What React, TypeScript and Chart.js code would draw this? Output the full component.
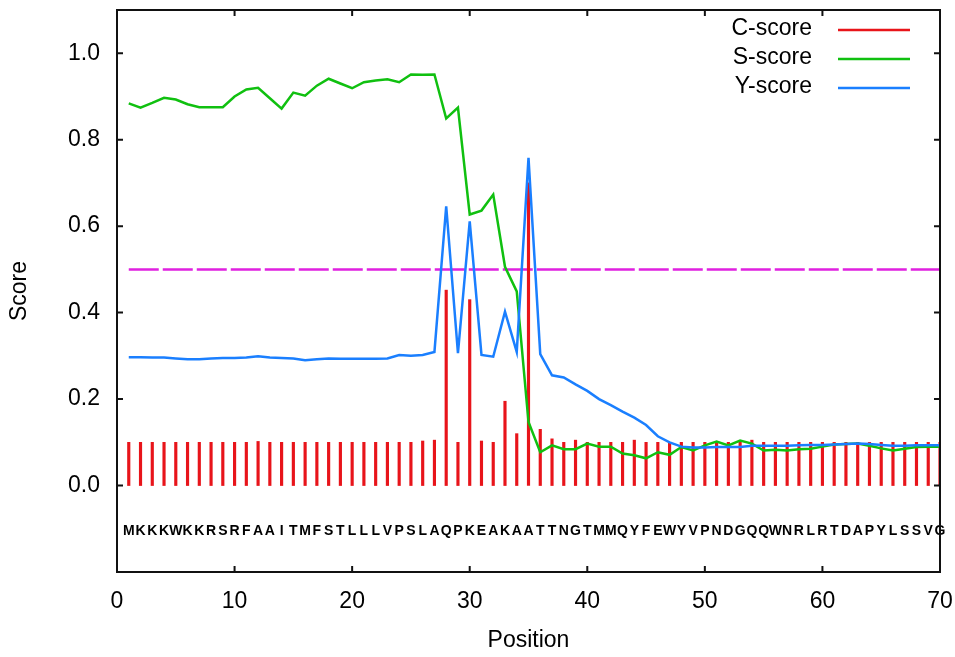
import React, { useEffect, useRef } from "react";
import { Chart, registerables } from "chart.js";

Chart.register(...registerables);

const sequence = "MKKKWKKRSRFAAITMFSTLLLVPSLAQPKEAKAATTNGTMMQYFEWYVPNDGQQWNRLRTDAPYLSSVG".split("");

const positions = sequence.map((_, i) => i + 1);

const cScore = [
  0.1, 0.1, 0.1, 0.1, 0.1, 0.1, 0.1, 0.1, 0.1, 0.1,
  0.1, 0.102, 0.1, 0.1, 0.1, 0.1, 0.1, 0.1, 0.1, 0.1,
  0.1, 0.1, 0.1, 0.1, 0.1, 0.103, 0.105, 0.452, 0.1, 0.43,
  0.103, 0.1, 0.195, 0.12, 0.70, 0.13, 0.108, 0.1, 0.105, 0.1,
  0.1, 0.1, 0.1, 0.105, 0.1, 0.1, 0.1, 0.1, 0.1, 0.1,
  0.1, 0.1, 0.1, 0.105, 0.1, 0.1, 0.1, 0.1, 0.1, 0.1,
  0.1, 0.1, 0.1, 0.1, 0.1, 0.1, 0.1, 0.1, 0.1, 0.1,
];

const sScore = [
  0.884, 0.874, 0.885, 0.897, 0.893, 0.882, 0.875, 0.875, 0.875, 0.900,
  0.916, 0.920, 0.896, 0.872, 0.909, 0.902, 0.925, 0.941, 0.930, 0.919,
  0.933, 0.937, 0.940, 0.933, 0.951, 0.950, 0.951, 0.849, 0.874, 0.627,
  0.636, 0.673, 0.506, 0.449, 0.147, 0.077, 0.093, 0.084, 0.084, 0.097,
  0.090, 0.090, 0.074, 0.070, 0.063, 0.077, 0.071, 0.089, 0.081, 0.093,
  0.102, 0.093, 0.104, 0.097, 0.081, 0.083, 0.081, 0.084, 0.085, 0.090,
  0.095, 0.096, 0.097, 0.092, 0.086, 0.081, 0.085, 0.089, 0.090, 0.090,
];

const yScore = [
  0.297, 0.297, 0.296, 0.296, 0.294, 0.292, 0.292, 0.294, 0.295, 0.295,
  0.296, 0.299, 0.296, 0.295, 0.294, 0.290, 0.292, 0.294, 0.293, 0.293,
  0.293, 0.293, 0.294, 0.302, 0.300, 0.302, 0.309, 0.646, 0.306, 0.611,
  0.302, 0.298, 0.402, 0.309, 0.758, 0.304, 0.255, 0.250, 0.234, 0.219,
  0.200, 0.186, 0.171, 0.157, 0.140, 0.114, 0.100, 0.090, 0.088, 0.088,
  0.089, 0.089, 0.089, 0.092, 0.092, 0.092, 0.092, 0.093, 0.094, 0.094,
  0.095, 0.096, 0.097, 0.096, 0.094, 0.092, 0.092, 0.093, 0.093, 0.093,
];

const thresholdX = [1, 70];
const thresholdValue = 0.5;

const yTickValues = [0, 0.2, 0.4, 0.6, 0.8, 1.0];
const xTickValues = [0, 10, 20, 30, 40, 50, 60, 70];

const legendLabels = ["C-score", "S-score", "Y-score"];
const legendColors = ["#e8141a", "#10c010", "#1a7fff"];

const RED = legendColors[0];
const GREEN = legendColors[1];
const BLUE = legendColors[2];
const MAGENTA = "#e020e0";
const FONT = "'Liberation Sans', Arial, sans-serif";

const framePlugin = {
  id: "frame",
  afterDatasetsDraw(chart: any) {
    const { ctx, chartArea } = chart;
    const xs = chart.scales.x;
    const ys = chart.scales.y;
    ctx.save();
    // sequence letters
    ctx.fillStyle = "#000";
    ctx.font = `bold 14px ${FONT}`;
    ctx.textAlign = "center";
    ctx.textBaseline = "middle";
    sequence.forEach((ch, i) => {
      ctx.fillText(ch, xs.getPixelForValue(positions[i]), ys.getPixelForValue(-0.105));
    });
    // frame
    ctx.strokeStyle = "#111";
    ctx.lineWidth = 2;
    ctx.strokeRect(chartArea.left, chartArea.top, chartArea.right - chartArea.left, chartArea.bottom - chartArea.top);
    // inward ticks
    const tl = 6;
    ctx.beginPath();
    yTickValues.forEach((v) => {
      const py = ys.getPixelForValue(v);
      ctx.moveTo(chartArea.left, py);
      ctx.lineTo(chartArea.left + tl, py);
      ctx.moveTo(chartArea.right, py);
      ctx.lineTo(chartArea.right - tl, py);
    });
    xTickValues.forEach((v) => {
      const px = xs.getPixelForValue(v);
      ctx.moveTo(px, chartArea.bottom);
      ctx.lineTo(px, chartArea.bottom - tl);
      ctx.moveTo(px, chartArea.top);
      ctx.lineTo(px, chartArea.top + tl);
    });
    ctx.stroke();
    // legend
    ctx.font = `23px ${FONT}`;
    ctx.textAlign = "right";
    ctx.textBaseline = "middle";
    legendLabels.forEach((lab, i) => {
      const y = chartArea.top + 19 + i * 29;
      ctx.fillStyle = "#000";
      ctx.fillText(lab, chartArea.right - 128, y);
      ctx.strokeStyle = legendColors[i];
      ctx.lineWidth = 2.5;
      ctx.beginPath();
      ctx.moveTo(chartArea.right - 102, y + 1);
      ctx.lineTo(chartArea.right - 30, y + 1);
      ctx.stroke();
    });
    ctx.restore();
  },
};

export default function App() {
  const ref = useRef<HTMLCanvasElement>(null);
  useEffect(() => {
    const canvas = ref.current;
    if (!canvas) return;
    const chart = new Chart(canvas, {
      type: "bar",
      data: {
        datasets: [
          {
            type: "line",
            label: "threshold",
            data: thresholdX.map((x) => ({ x, y: thresholdValue })),
            borderColor: MAGENTA,
            borderWidth: 2.5,
            borderDash: [30, 4],
            pointRadius: 0,
            order: 4,
          } as any,
          {
            type: "bar",
            label: legendLabels[0],
            data: positions.map((x, i) => ({ x, y: cScore[i] })),
            backgroundColor: RED,
            barThickness: 2.5,
            grouped: false,
            order: 3,
          } as any,
          {
            type: "line",
            label: legendLabels[1],
            data: positions.map((x, i) => ({ x, y: sScore[i] })),
            borderColor: GREEN,
            borderWidth: 2.5,
            pointRadius: 0,
            tension: 0,
            order: 2,
          } as any,
          {
            type: "line",
            label: legendLabels[2],
            data: positions.map((x, i) => ({ x, y: yScore[i] })),
            borderColor: BLUE,
            borderWidth: 2.5,
            pointRadius: 0,
            tension: 0,
            order: 1,
          } as any,
        ],
      },
      options: {
        animation: false,
        responsive: false,
        maintainAspectRatio: false,
        layout: { padding: { left: 0, right: 15, top: 10, bottom: 0 } },
        plugins: { legend: { display: false }, tooltip: { enabled: false } },
        scales: {
          x: {
            type: "linear",
            min: 0,
            max: 70,
            offset: false,
            grid: { display: false, drawTicks: false },
            border: { display: false },
            afterBuildTicks: (scale: any) => {
              scale.ticks = xTickValues.map((v) => ({ value: v }));
            },
            afterFit: (scale: any) => {
              scale.height = 85;
              scale.paddingLeft = 0;
              scale.paddingRight = 0;
            },
            ticks: {
              color: "#000",
              padding: 16,
              maxRotation: 0,
              font: { family: FONT, size: 23 },
              callback: (v: any) => String(v),
            },
            title: {
              display: true,
              text: "Position",
              color: "#000",
              font: { family: FONT, size: 23 },
              padding: { top: 0, bottom: 3 },
            },
          },
          y: {
            type: "linear",
            min: -0.2,
            max: 1.1,
            grid: { display: false, drawTicks: false },
            border: { display: false },
            afterBuildTicks: (scale: any) => {
              scale.ticks = yTickValues.map((v) => ({ value: v }));
            },
            afterFit: (scale: any) => {
              scale.width = 117;
              scale.paddingTop = 0;
              scale.paddingBottom = 0;
            },
            ticks: {
              color: "#000",
              padding: 17,
              font: { family: FONT, size: 23 },
              callback: (v: any) => Number(v).toFixed(1),
            },
            title: {
              display: true,
              text: "Score",
              color: "#000",
              font: { family: FONT, size: 23 },
              padding: { top: 6, bottom: 0 },
            },
          },
        },
      },
      plugins: [framePlugin],
    } as any);
    return () => chart.destroy();
  }, []);
  return (
    <div style={{ position: "fixed", left: 0, top: 0, width: 955, height: 657, background: "#fff" }}>
      <canvas ref={ref} width={955} height={657} style={{ display: "block" }} />
    </div>
  );
}
